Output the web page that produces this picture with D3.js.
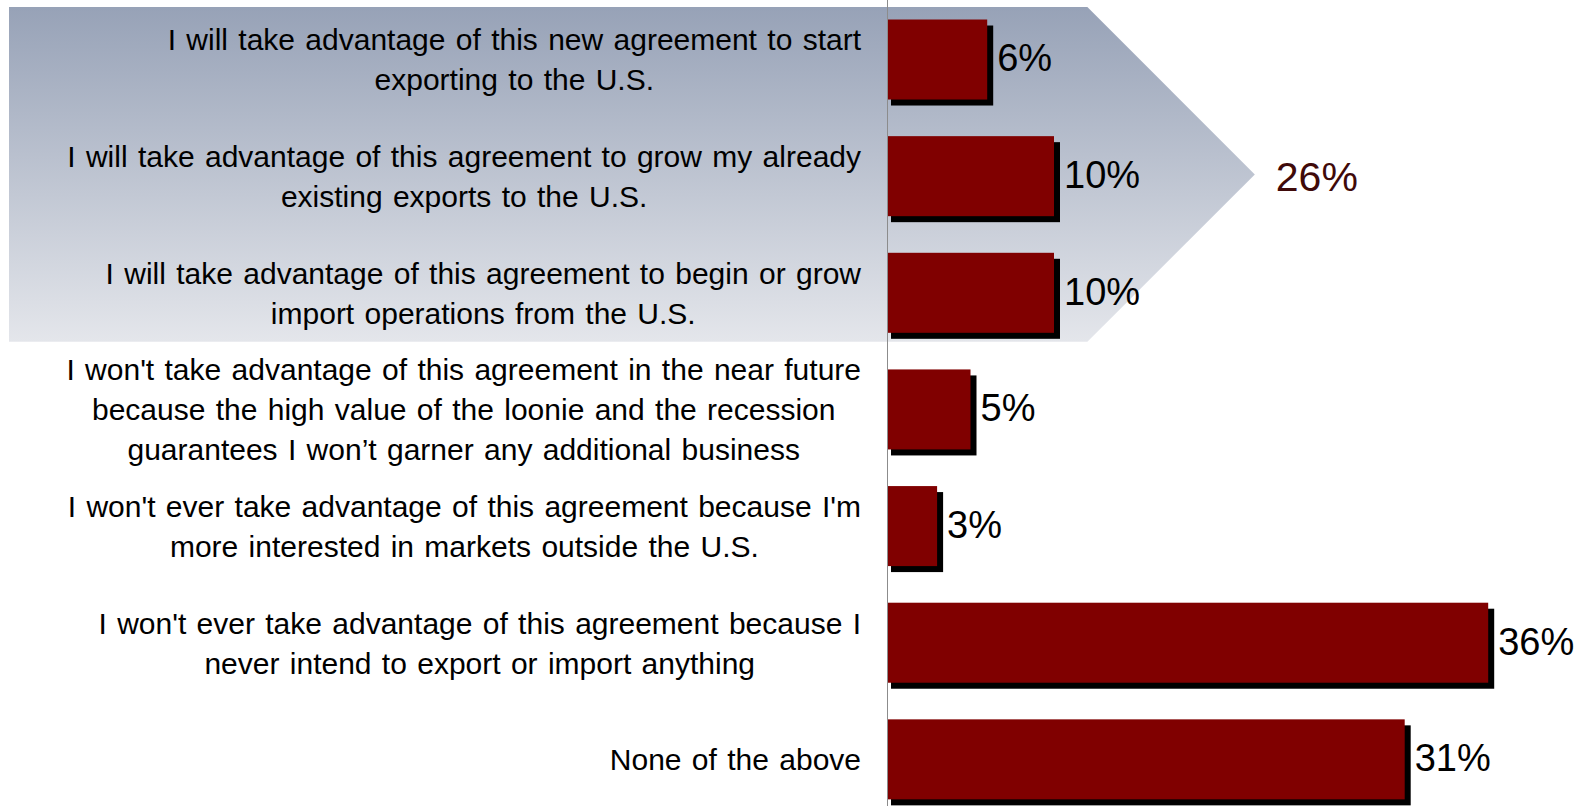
<!DOCTYPE html>
<html>
<head>
<meta charset="utf-8">
<script src="https://cdn.jsdelivr.net/npm/d3@7"></script>
<style>
  html, body { margin: 0; padding: 0; background: #fff; }
  svg { display: block; }
  text { font-family: "Liberation Sans", Arial, sans-serif; }
</style>
</head>
<body>
<svg id="chart" width="1579" height="806"></svg>
<script>
// Survey responses: share of respondents for each statement
const categories = [
  ["I will take advantage of this new agreement to start", "exporting to the U.S."],
  ["I will take advantage of this agreement to grow my already", "existing exports to the U.S."],
  ["I will take advantage of this agreement to begin or grow", "import operations from the U.S."],
  ["I won't take advantage of this agreement in the near future", "because the high value of the loonie and the recession", "guarantees I won\u2019t garner any additional business"],
  ["I won't ever take advantage of this agreement because I'm", "more interested in markets outside the U.S."],
  ["I won't ever take advantage of this agreement because I", "never intend to export or import anything"],
  ["None of the above"]
];
const values = [6, 10, 10, 5, 3, 36, 31];
const valueLabels = ["6%", "10%", "10%", "5%", "3%", "36%", "31%"];

// Grouped total for the first three statements
const groupRows = [0, 1, 2];
const groupLabel = "26%";

const svg = d3.select("#chart");

const x = d3.scaleLinear().domain([0, 40]).range([887, 1555]);
const y = d3.scaleBand()
  .domain(d3.range(categories.length))
  .range([1.2, 1.2 + 7 * 116.64])
  .paddingInner(0.314)
  .paddingOuter(0.157);

// Gradient panel with arrow pointing at the group total
const defs = svg.append("defs");
const grad = defs.append("linearGradient")
  .attr("id", "panelGrad").attr("x1", 0).attr("y1", 0).attr("x2", 0).attr("y2", 1);
grad.append("stop").attr("offset", "0%").attr("stop-color", "#97a2b7");
grad.append("stop").attr("offset", "100%").attr("stop-color", "#e4e6eb");

const gTop = y(groupRows[0]) - 12.5;
const gBot = y(groupRows[groupRows.length - 1]) + y.bandwidth() + 9;
const gMid = (gTop + gBot) / 2;
const shoulderX = x(12);
const tipX = shoulderX + (gMid - gTop);
svg.append("path")
  .attr("d", `M9,${gTop} L${shoulderX},${gTop} L${tipX},${gMid} L${shoulderX},${gBot} L9,${gBot} Z`)
  .attr("fill", "url(#panelGrad)");

svg.append("text")
  .attr("x", tipX + 21)
  .attr("y", gMid + 17)
  .attr("font-size", 41)
  .attr("fill", "#3f0a0a")
  .text(groupLabel);

// Value axis line
svg.append("line")
  .attr("x1", x(0) + 0.5).attr("x2", x(0) + 0.5)
  .attr("y1", 0).attr("y2", 806)
  .attr("stroke", "#8c8c8c").attr("stroke-width", 1);

// Bar shadows, then bars
const rows = values.map((v, i) => ({ i, v, label: valueLabels[i], lines: categories[i] }));

svg.append("g").selectAll("rect").data(rows).join("rect")
  .attr("x", x(0) + 4)
  .attr("y", d => y(d.i) + 6)
  .attr("width", d => x(d.v) - x(0) + 2)
  .attr("height", y.bandwidth())
  .attr("fill", "#000");

svg.append("g").selectAll("rect").data(rows).join("rect")
  .attr("x", x(0) + 1)
  .attr("y", d => y(d.i))
  .attr("width", d => x(d.v) - x(0) - 1)
  .attr("height", y.bandwidth())
  .attr("fill", "#800000");

// Value labels
svg.append("g").selectAll("text").data(rows).join("text")
  .attr("x", d => x(d.v) + 10)
  .attr("y", d => y(d.i) + y.bandwidth() / 2 + 11.8)
  .attr("font-size", 38)
  .attr("fill", "#000")
  .text(d => d.label);

// Category labels: centered block, right edge against the axis
const lineH = 40;
const labelRight = 861;
const labelG = svg.append("g");
rows.forEach(d => {
  const cy = y(d.i) + y.bandwidth() / 2;
  const t = labelG.append("text")
    .attr("font-size", 30)
    .attr("word-spacing", 2)
    .attr("fill", "#000")
    .attr("text-anchor", "middle");
  const spans = d.lines.map((ln, k) => t.append("tspan")
    .attr("y", cy + (k - (d.lines.length - 1) / 2) * lineH + 10.8)
    .text(ln));
  const widest = d3.max(spans, s => s.node().getComputedTextLength());
  spans.forEach(s => s.attr("x", labelRight - widest / 2));
});
</script>
</body>
</html>
